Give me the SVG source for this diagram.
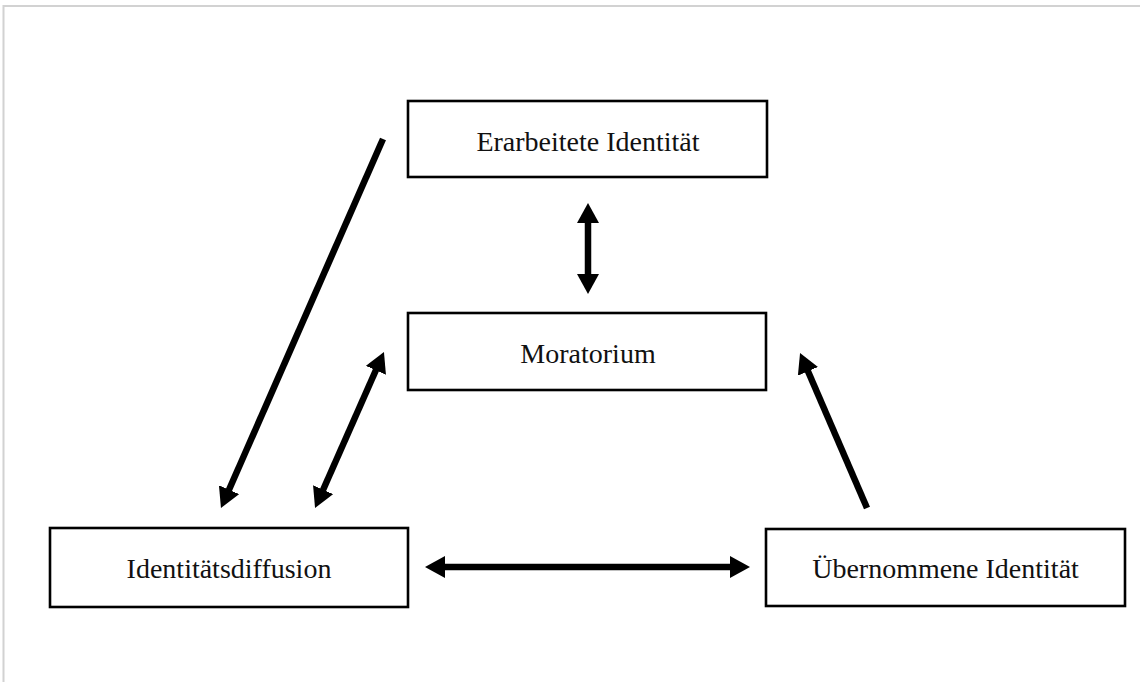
<svg xmlns="http://www.w3.org/2000/svg" width="1140" height="682" viewBox="0 0 1140 682">
<style>
.box{fill:#fff;stroke:#000;stroke-width:2.6}
.lbl{font-family:"Liberation Serif","Times New Roman",serif;font-size:28px;fill:#111;text-anchor:middle}
.arr{stroke:#000;stroke-width:6.5;fill:none}
</style>
<defs>
<marker id="ah" markerUnits="userSpaceOnUse" markerWidth="20" markerHeight="22" refX="6" refY="11" orient="auto-start-reverse" viewBox="0 0 20 22">
<path d="M0,0 L20,11 L0,22 z" fill="#000"/>
</marker>
</defs>
<rect width="1140" height="682" fill="#fff"/>
<path d="M3.5,682 V6 H1140" fill="none" stroke="#d2d2d2" stroke-width="2"/>
<g id="connectors">
<line class="arr" x1="588" y1="217" x2="588" y2="280" marker-start="url(#ah)" marker-end="url(#ah)"/>
<line class="arr" x1="383" y1="139" x2="226.6" y2="495.2" marker-end="url(#ah)"/>
<line class="arr" x1="378.3" y1="364.8" x2="320.7" y2="495.2" marker-start="url(#ah)" marker-end="url(#ah)"/>
<line class="arr" x1="867" y1="508" x2="805.6" y2="365.8" marker-end="url(#ah)"/>
<line class="arr" x1="439" y1="567" x2="736" y2="567" marker-start="url(#ah)" marker-end="url(#ah)"/>
</g>
<g id="erarbeitete">
<rect class="box" x="408" y="101" width="359" height="76"/>
<text class="lbl" x="588" y="151">Erarbeitete Identität</text>
</g>
<g id="moratorium">
<rect class="box" x="408" y="313" width="358" height="77"/>
<text class="lbl" x="588" y="363">Moratorium</text>
</g>
<g id="diffusion">
<rect class="box" x="50" y="528" width="358" height="79"/>
<text class="lbl" x="229" y="578">Identitätsdiffusion</text>
</g>
<g id="uebernommene">
<rect class="box" x="766" y="529" width="359" height="77"/>
<text class="lbl" x="945.5" y="578">Übernommene Identität</text>
</g>
</svg>
